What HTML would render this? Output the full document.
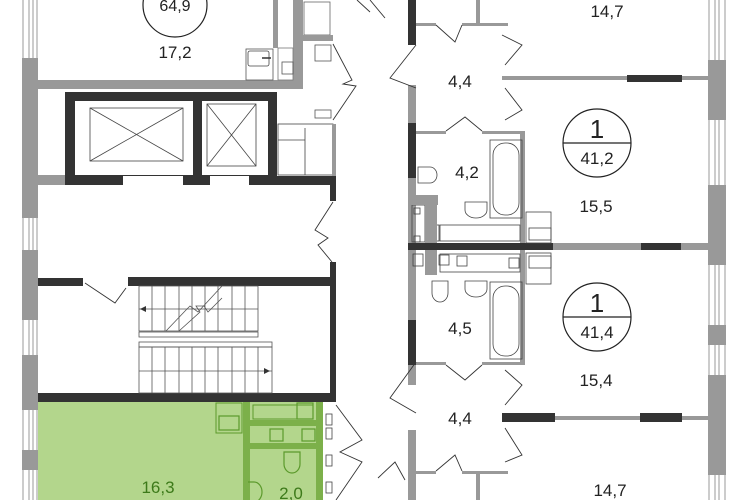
<!DOCTYPE html>
<html><head><meta charset="utf-8"><style>
html,body{margin:0;padding:0;background:#fff;width:741px;height:500px;overflow:hidden}
svg{display:block}
text{font-family:"Liberation Sans",sans-serif;fill:#222}
</style></head><body>
<svg width="741" height="500" viewBox="0 0 741 500" xmlns="http://www.w3.org/2000/svg">
<rect x="38" y="402" width="285" height="98" fill="#b3d68c"/>
<rect x="243" y="402" width="7" height="98" fill="#7cb04a"/>
<rect x="316" y="402" width="7" height="98" fill="#7cb04a"/>
<rect x="250" y="420" width="66" height="6" fill="#7cb04a"/>
<rect x="250" y="443" width="66" height="6" fill="#7cb04a"/>
<rect x="253" y="405" width="60" height="14" fill="none" stroke="#5c9a2c" stroke-width="1"/>
<rect x="297" y="403" width="16" height="16" fill="none" stroke="#5c9a2c" stroke-width="1.2"/>
<rect x="270" y="429" width="13" height="12" fill="none" stroke="#5c9a2c" stroke-width="1.2"/>
<rect x="302" y="429" width="13" height="12" fill="none" stroke="#5c9a2c" stroke-width="1.2"/>
<rect x="216" y="403" width="26" height="30" fill="none" stroke="#5c9a2c" stroke-width="1"/>
<rect x="219" y="416" width="20" height="14" fill="none" stroke="#5c9a2c" stroke-width="1.2"/>
<path d="M284 452h16v12a8 9 0 0 1-16 0z" fill="none" stroke="#5c9a2c" stroke-width="1.2"/>
<path d="M248 482h6a8 10 0 0 1 0 20h-6" fill="none" stroke="#5c9a2c" stroke-width="1.2"/>
<text x="158" y="493" font-size="17" text-anchor="middle" style="fill:#3d7a1a">16,3</text>
<text x="291" y="499" font-size="17" text-anchor="middle" style="fill:#3d7a1a">2,0</text>

<rect x="22" y="0" width="16" height="500" fill="#fff"/>
<g stroke="#999" stroke-width="1"><line x1="23" y1="0" x2="23" y2="500"/><line x1="29" y1="0" x2="29" y2="500"/><line x1="33" y1="0" x2="33" y2="500"/><line x1="37" y1="0" x2="37" y2="500"/></g>
<g fill="#999"><rect x="22" y="58" width="16" height="30"/><rect x="22" y="88" width="16" height="130"/><rect x="22" y="250" width="16" height="70"/><rect x="22" y="355" width="16" height="55"/><rect x="22" y="450" width="16" height="20"/></g>

<rect x="38" y="80" width="265" height="9" fill="#999"/>
<rect x="273" y="0" width="5" height="48" fill="#999"/>
<rect x="293" y="0" width="10" height="89" fill="#999"/>
<rect x="278" y="48" width="15" height="32" fill="none" stroke="#777" stroke-width="0.8"/>
<rect x="282" y="62" width="11" height="12" fill="none" stroke="#555" stroke-width="0.8"/>
<rect x="246" y="49" width="27" height="31" fill="none" stroke="#555" stroke-width="0.8"/>
<rect x="248" y="51" width="21" height="15" rx="2" fill="none" stroke="#444" stroke-width="0.8"/>
<line x1="262" y1="58" x2="271" y2="58" stroke="#333" stroke-width="1.5"/>
<rect x="304" y="2" width="26" height="33" fill="none" stroke="#666" stroke-width="0.8"/>
<rect x="303" y="35" width="30" height="6" fill="#999"/>
<rect x="315" y="45" width="16" height="16" fill="none" stroke="#555" stroke-width="0.8"/>
<rect x="315" y="110" width="16" height="8" fill="none" stroke="#555" stroke-width="0.8"/>
<circle cx="175" cy="5" r="32" fill="#fff" stroke="#222" stroke-width="1.2"/>
<text x="175" y="11" font-size="16" text-anchor="middle">64,9</text>
<text x="175" y="58" font-size="17" text-anchor="middle">17,2</text>
<path d="M333 44 L352 80 L343 84 L356 86 L333 120" fill="none" stroke="#333" stroke-width="0.9"/>
<path d="M357 0 L370 12" fill="none" stroke="#333" stroke-width="0.9"/>

<rect x="38" y="175" width="30" height="10" fill="#999"/>
<path d="M65 92H277V185H65Z M75 101V175H193V101Z M202 101V175H268V101Z" fill="#333" fill-rule="evenodd"/>
<rect x="123" y="176" width="60" height="9" fill="#fff"/>
<rect x="210" y="176" width="39" height="9" fill="#fff"/>
<rect x="277" y="176" width="59" height="9" fill="#333"/>
<rect x="330" y="176" width="6" height="25" fill="#333"/>
<g stroke="#444" stroke-width="0.8" fill="none">
<rect x="90" y="108" width="93" height="53"/><line x1="90" y1="108" x2="183" y2="161"/><line x1="183" y1="108" x2="90" y2="161"/>
<rect x="207" y="104" width="49" height="62"/><line x1="207" y1="104" x2="256" y2="166"/><line x1="256" y1="104" x2="207" y2="166"/>
<rect x="278" y="124" width="55" height="51"/><line x1="305" y1="128" x2="305" y2="175"/><line x1="278" y1="140" x2="305" y2="140"/>
</g>
<rect x="332" y="124" width="4" height="52" fill="#999"/>
<path d="M333 202 L315 230 L328 238 L318 245 L332 262" fill="none" stroke="#333" stroke-width="0.9"/>

<rect x="38" y="278" width="45" height="8" fill="#333"/>
<rect x="128" y="277" width="204" height="9" fill="#333"/>
<rect x="330" y="262" width="6" height="140" fill="#333"/>
<rect x="38" y="393" width="298" height="9" fill="#333"/>
<path d="M85 283 L115 303 L126 288" fill="none" stroke="#333" stroke-width="0.9"/>
<g stroke="#555" stroke-width="0.8" fill="none">
<rect x="139" y="286" width="119" height="45"/>
<line x1="139" y1="309" x2="258" y2="309"/>
<line x1="152" y1="286" x2="152" y2="331"/><line x1="165" y1="286" x2="165" y2="331"/><line x1="179" y1="286" x2="179" y2="331"/><line x1="192" y1="286" x2="192" y2="331"/><line x1="205" y1="286" x2="205" y2="331"/><line x1="218" y1="286" x2="218" y2="331"/><line x1="232" y1="286" x2="232" y2="331"/><line x1="245" y1="286" x2="245" y2="331"/>
<rect x="139" y="332" width="119" height="5"/>
<rect x="139" y="342" width="133" height="5"/>
<rect x="139" y="347" width="133" height="46"/>
<line x1="139" y1="371" x2="272" y2="371"/>
<line x1="152" y1="347" x2="152" y2="393"/><line x1="165" y1="347" x2="165" y2="393"/><line x1="179" y1="347" x2="179" y2="393"/><line x1="192" y1="347" x2="192" y2="393"/><line x1="205" y1="347" x2="205" y2="393"/><line x1="218" y1="347" x2="218" y2="393"/><line x1="232" y1="347" x2="232" y2="393"/><line x1="245" y1="347" x2="245" y2="393"/><line x1="258" y1="347" x2="258" y2="393"/>
<path d="M166 331 L186 310 L190 306 L198 312 L222 286 M179 331 L200 312 L196 306 L204 306 L208 312 L222 298"/>
</g>
<path d="M140 309 l6 -3 v6z M270 371 l-6 -3 v6z" fill="#333"/>

<g fill="#fff" stroke="#444" stroke-width="0.8">
<rect x="326" y="414" width="6" height="11"/><rect x="326" y="428" width="6" height="11"/><rect x="326" y="455" width="6" height="11"/><rect x="326" y="482" width="6" height="11"/>
</g>
<path d="M336 405 L362 440 L340 452 L362 462 L336 500" fill="none" stroke="#333" stroke-width="0.9"/>

<rect x="408" y="0" width="8" height="45" fill="#333"/>
<rect x="408" y="85" width="8" height="45" fill="#999"/>
<rect x="408" y="123" width="8" height="55" fill="#333"/>
<rect x="408" y="178" width="8" height="65" fill="#999"/>
<rect x="408" y="243" width="145" height="7" fill="#333"/>
<rect x="553" y="243" width="155" height="7" fill="#999"/>
<rect x="641" y="243" width="40" height="7" fill="#333"/>
<rect x="408" y="250" width="8" height="70" fill="#999"/>
<rect x="408" y="320" width="8" height="45" fill="#333"/>
<rect x="408" y="365" width="8" height="20" fill="#999"/>
<rect x="408" y="430" width="8" height="70" fill="#999"/>
<rect x="476" y="0" width="4" height="24" fill="#999"/>
<rect x="416" y="23" width="20" height="3" fill="#999"/>
<rect x="462" y="23" width="46" height="3" fill="#999"/>
<rect x="502" y="76" width="206" height="4" fill="#999"/>
<rect x="627" y="75" width="55" height="7" fill="#333"/>
<rect x="416" y="131" width="30" height="3" fill="#999"/>
<rect x="482" y="131" width="42" height="3" fill="#999"/>
<rect x="520" y="131" width="5" height="112" fill="#999"/>
<rect x="416" y="362" width="30" height="3" fill="#999"/>
<rect x="482" y="362" width="42" height="3" fill="#999"/>
<rect x="520" y="250" width="5" height="115" fill="#999"/>
<rect x="502" y="416" width="206" height="4" fill="#999"/>
<rect x="502" y="413" width="53" height="9" fill="#333"/>
<rect x="640" y="413" width="42" height="9" fill="#333"/>
<rect x="416" y="471" width="20" height="3" fill="#999"/>
<rect x="462" y="471" width="46" height="3" fill="#999"/>
<rect x="476" y="474" width="4" height="26" fill="#999"/>
<rect x="708" y="0" width="18" height="500" fill="#fff"/>
<g stroke="#999" stroke-width="1"><line x1="709" y1="0" x2="709" y2="500"/><line x1="715" y1="0" x2="715" y2="500"/><line x1="719" y1="0" x2="719" y2="500"/><line x1="725" y1="0" x2="725" y2="500"/></g>
<g fill="#999"><rect x="708" y="60" width="18" height="60"/><rect x="708" y="185" width="18" height="80"/><rect x="708" y="325" width="18" height="20"/><rect x="708" y="375" width="18" height="100"/></g>
<g fill="none" stroke="#333" stroke-width="0.9">
<path d="M416 45 L390 78 L416 88"/><path d="M416 362 L390 398 L416 413"/>
<path d="M436 25 L455 42 L462 25"/><path d="M502 35 L522 45 L505 65"/>
<path d="M505 88 L522 110 L505 120"/><path d="M446 131 L465 117 L482 131"/>
<path d="M446 365 L465 380 L482 365"/><path d="M505 370 L522 385 L505 405"/>
<path d="M505 428 L522 455 L505 462"/><path d="M436 471 L455 455 L462 471"/>
<path d="M378 478 L395 462 L405 480"/><path d="M370 0 L385 18"/>
</g>
<g fill="none" stroke="#444" stroke-width="0.8">
<rect x="490" y="140" width="32" height="78"/><rect x="493" y="143" width="26" height="72" rx="12"/>
<rect x="490" y="282" width="32" height="77"/><rect x="493" y="286" width="26" height="70" rx="12"/>
<path d="M418 167h12a7 8 0 0 1 0 16h-12z"/><path d="M465 202h22v8a11 8 0 0 1-22 0z"/>
<path d="M432 281v12a8 9 0 0 0 16 0v-12z"/><path d="M465 281h22v8a11 8 0 0 1-22 0z"/>
<rect x="526" y="212" width="25" height="31"/><rect x="529" y="228" width="22" height="12"/>
<rect x="526" y="253" width="25" height="31"/><rect x="529" y="256" width="22" height="12"/>
<rect x="412" y="205" width="13" height="37"/><rect x="414" y="208" width="6" height="6"/><rect x="414" y="236" width="6" height="6"/>
<rect x="440" y="225" width="80" height="16"/><rect x="427" y="225" width="12" height="16"/>
<rect x="413" y="254" width="10" height="12"/><rect x="440" y="254" width="80" height="18"/>
<rect x="439" y="255" width="10" height="10"/><rect x="457" y="256" width="10" height="10"/><rect x="509" y="258" width="10" height="10"/>
</g>
<rect x="408" y="195" width="30" height="10" fill="#999"/>
<rect x="425" y="205" width="12" height="38" fill="#999"/>
<rect x="425" y="250" width="12" height="25" fill="#999"/>
<circle cx="597" cy="143" r="34" fill="#fff" stroke="#222" stroke-width="1.2"/>
<line x1="563" y1="143" x2="631" y2="143" stroke="#222" stroke-width="1.2"/>
<text x="597" y="138" font-size="26" text-anchor="middle">1</text>
<text x="597" y="164" font-size="17" text-anchor="middle">41,2</text>
<circle cx="597" cy="317" r="34" fill="#fff" stroke="#222" stroke-width="1.2"/>
<line x1="563" y1="317" x2="631" y2="317" stroke="#222" stroke-width="1.2"/>
<text x="597" y="312" font-size="26" text-anchor="middle">1</text>
<text x="597" y="338" font-size="17" text-anchor="middle">41,4</text>
<g font-size="17" text-anchor="middle">
<text x="607" y="17">14,7</text>
<text x="460" y="87">4,4</text>
<text x="467" y="178">4,2</text>
<text x="596" y="212">15,5</text>
<text x="460" y="334">4,5</text>
<text x="596" y="386">15,4</text>
<text x="460" y="424">4,4</text>
<text x="610" y="496">14,7</text>
</g>
</svg>
</body></html>
